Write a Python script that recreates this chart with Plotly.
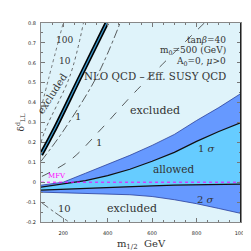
import plotly.graph_objects as go

# ---- data ----
m_band = [100, 200, 300, 400, 500, 600, 700, 800, 900, 1000]
sig2_top = [-0.015, 0.0, 0.045, 0.09, 0.135, 0.185, 0.24, 0.31, 0.375, 0.446]
sig1_top = [-0.025, -0.01, 0.008, 0.033, 0.065, 0.105, 0.15, 0.205, 0.255, 0.30]
sig1_bot = [-0.04, -0.035, -0.03, -0.026, -0.022, -0.018, -0.015, -0.013, -0.011, -0.01]
sig2_bot = [-0.05, -0.052, -0.055, -0.059, -0.063, -0.072, -0.088, -0.108, -0.132, -0.157]

thick_m = [100, 157, 278, 396]
thick_v = [0.138, 0.257, 0.533, 0.8]
one_m = [100, 200, 352, 456]
one_v = [0.105, 0.257, 0.533, 0.8]
nlo_m = [104, 235, 374, 522, 835]
nlo_v = [0.029, 0.114, 0.271, 0.452, 0.8]
ten_m = [100, 122, 230, 291]
ten_v = [0.2, 0.271, 0.533, 0.8]
hund_m = [100, 135, 200]
hund_v = [0.371, 0.524, 0.8]
ten_low_m = [100, 160, 226]
ten_low_v = [-0.1, -0.15, -0.2]
mfv_m = [100, 1000]
mfv_v = [0.0, 0.0]

EXCL = "#dff3fa"
ALLOW = "#66ccff"
SIG2 = "#6699ff"
SERIF = "DejaVu Serif"

fig = go.Figure()

# 2 sigma region
fig.add_trace(go.Scatter(x=m_band + m_band[::-1], y=sig2_top + sig2_bot[::-1],
                         fill="toself", fillcolor=SIG2, mode="lines",
                         line=dict(color="#2a3f9a", width=0.8), hoverinfo="skip"))
# 1 sigma region
fig.add_trace(go.Scatter(x=m_band + m_band[::-1], y=sig1_top + sig1_bot[::-1],
                         fill="toself", fillcolor=ALLOW, mode="lines",
                         line=dict(color="rgba(0,0,0,0)", width=0), hoverinfo="skip"))
fig.add_trace(go.Scatter(x=m_band, y=sig1_top, mode="lines",
                         line=dict(color="#111", width=1.2)))
fig.add_trace(go.Scatter(x=m_band, y=sig1_bot, mode="lines",
                         line=dict(color="#111", width=1.2)))

# contour lines
fig.add_trace(go.Scatter(x=hund_m, y=hund_v, mode="lines",
                         line=dict(color="#555", width=0.8, dash="dot", shape="spline")))
fig.add_trace(go.Scatter(x=ten_m, y=ten_v, mode="lines",
                         line=dict(color="#444", width=0.8, dash="dot", shape="spline")))
fig.add_trace(go.Scatter(x=thick_m, y=thick_v, mode="lines",
                         line=dict(color="#000", width=4.5, shape="spline")))
fig.add_trace(go.Scatter(x=thick_m, y=thick_v, mode="lines",
                         line=dict(color="#3a9ad0", width=1.2, shape="spline")))
fig.add_trace(go.Scatter(x=one_m, y=one_v, mode="lines",
                         line=dict(color="#333", width=0.8, dash="dashdot", shape="spline")))
fig.add_trace(go.Scatter(x=nlo_m, y=nlo_v, mode="lines",
                         line=dict(color="#333", width=0.8, dash="dash", shape="spline")))
fig.add_trace(go.Scatter(x=ten_low_m, y=ten_low_v, mode="lines",
                         line=dict(color="#444", width=0.8, dash="dashdot", shape="spline")))
fig.add_trace(go.Scatter(x=mfv_m, y=mfv_v, mode="lines",
                         line=dict(color="#ff00ff", width=1, dash="dot")))

def txt(x, y, s, size=10, color="#333", angle=0, xanchor="center"):
    fig.add_annotation(x=x, y=y, xref="x", yref="y", text=s, showarrow=False,
                       font=dict(family=SERIF, size=size, color=color),
                       textangle=angle, xanchor=xanchor, borderpad=0)

txt(205, 0.714, "100", size=9)
txt(210, 0.61, "10", size=9)
txt(150, 0.447, "excluded", size=10, angle=-57)
txt(265, 0.33, "1", size=10)
txt(361, 0.2, "1", size=10)
txt(935, 0.716, "tan<i>β</i>=40", size=9, xanchor="right")
txt(935, 0.664, "m<sub>0</sub>=500 (GeV)", size=9, xanchor="right")
txt(935, 0.607, "A<sub>0</sub>=0, <i>μ</i>>0", size=9, xanchor="right")
txt(935, 0.536, "NLO QCD – Eff. SUSY QCD", size=10.3, xanchor="right")
txt(613, 0.362, "excluded", size=11)
txt(848, 0.167, "1 <i>σ</i>", size=10)
txt(696, 0.067, "allowed", size=10.5)
txt(843, -0.086, "2 <i>σ</i>", size=10)
txt(509, -0.133, "excluded", size=11)
txt(204, -0.133, "10", size=10)
txt(174, 0.033, "MFV", size=7, color="#ff00ff")

fig.add_shape(type="line", x0=1000, x1=1000, y0=-0.2, y1=0.8, xref="x", yref="y",
              line=dict(color="#222", width=2))

fig.update_layout(
    width=251, height=251,
    margin=dict(l=28, r=16, t=14, b=27),
    paper_bgcolor="white", plot_bgcolor=EXCL,
    showlegend=False,
)
fig.update_xaxes(range=[100, 1000], tickvals=[200, 400, 600, 800, 1000],
                 ticks="inside", ticklen=4, tickcolor="#777", showgrid=False,
                 zeroline=False, showline=True, linecolor="#888", mirror="ticks",
                 minor=dict(dtick=50, tick0=0, ticks="inside", ticklen=2, tickcolor="#777"),
                 tickfont=dict(family="DejaVu Sans", size=5, color="#222"),
                 ticklabelstandoff=6,
                 title=dict(text="m<sub>1/2</sub>  GeV", font=dict(family=SERIF, size=10, color="#333"),
                            standoff=4))
fig.update_yaxes(range=[-0.2, 0.8], tickvals=[-0.2, -0.1, 0, 0.1, 0.2, 0.3, 0.4, 0.5, 0.6, 0.7, 0.8],
                 ticktext=["-0.2", "-0.1", "0", "0.1", "0.2", "0.3", "0.4", "0.5", "0.6", "0.7", "0.8"],
                 ticks="inside", ticklen=4, tickcolor="#777", showgrid=False,
                 zeroline=False, showline=True, linecolor="#888", mirror="ticks",
                 minor=dict(dtick=0.05, tick0=0, ticks="inside", ticklen=2, tickcolor="#777"),
                 tickfont=dict(family="DejaVu Sans", size=5, color="#222"),
                 ticklabelstandoff=3,
                 title=dict(text="δ<sup>d</sup><sub>LL</sub>", font=dict(family=SERIF, size=9, color="#333"),
                            standoff=0))

fig.write_html("out.html")
